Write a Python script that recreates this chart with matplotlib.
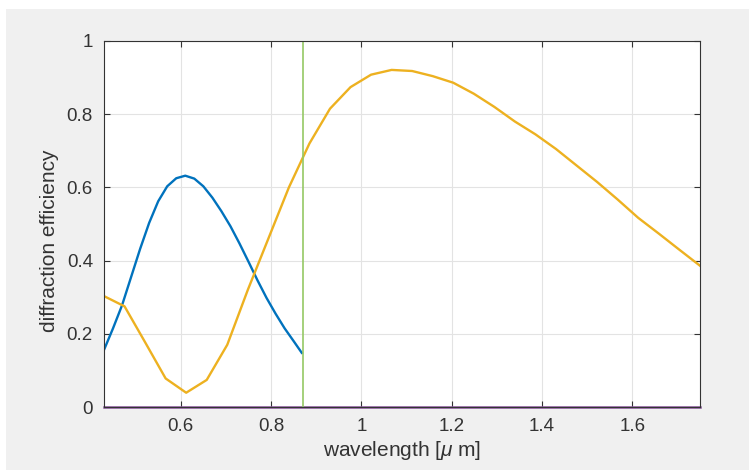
import matplotlib
matplotlib.use("Agg")
import matplotlib.pyplot as plt
from matplotlib.patches import Rectangle

plt.rcParams["font.family"] = ["Liberation Sans", "DejaVu Sans"]
plt.rcParams["mathtext.fontset"] = "custom"
plt.rcParams["mathtext.rm"] = "Liberation Sans"
plt.rcParams["mathtext.it"] = "Liberation Sans:italic"

# first-order efficiency, short-wavelength band
wl_blue = [0.43, 0.45, 0.47, 0.49, 0.51, 0.53, 0.55, 0.57, 0.59, 0.61,
           0.63, 0.65, 0.67, 0.69, 0.71, 0.73, 0.75, 0.77, 0.79, 0.81,
           0.83, 0.85, 0.868]
eff_blue = [0.156, 0.215, 0.278, 0.355, 0.432, 0.503, 0.562, 0.603, 0.625,
            0.632, 0.624, 0.603, 0.572, 0.535, 0.494, 0.447, 0.397, 0.346,
            0.298, 0.255, 0.215, 0.180, 0.148]

# efficiency over the full range
wl_yel = [0.43, 0.4755, 0.521, 0.5665, 0.612, 0.6575, 0.703, 0.7485, 0.794,
          0.8395, 0.885, 0.9305, 0.976, 1.0215, 1.067, 1.1125, 1.158, 1.2035,
          1.249, 1.2945, 1.34, 1.3855, 1.431, 1.4765, 1.522, 1.5675, 1.613,
          1.6585, 1.704, 1.75]
eff_yel = [0.303, 0.275, 0.177, 0.078, 0.039, 0.074, 0.17, 0.32, 0.46,
           0.60, 0.72, 0.815, 0.874, 0.908, 0.921, 0.918, 0.904, 0.886,
           0.856, 0.82, 0.78, 0.745, 0.705, 0.66, 0.615, 0.567, 0.517,
           0.474, 0.43, 0.386]

# zero-order line along the whole range
wl_zero = [0.43, 1.75]
eff_zero = [0.0, 0.0]

cutoff = 0.87  # band edge marker

fig = plt.figure(figsize=(7.49, 4.76), dpi=100, facecolor="white")
fig.patches.append(Rectangle((6 / 749, 6 / 476), 743 / 749, 461 / 476,
                             transform=fig.transFigure, facecolor="#f0f0f0",
                             edgecolor="none", zorder=-1))
ax = fig.add_axes([104 / 749, 69 / 476, 596 / 749, 366 / 476])

ax.plot(wl_blue, eff_blue, color="#0072BD", lw=1.7)
ax.plot(wl_yel, eff_yel, color="#EDB120", lw=1.7)
ax.plot(wl_zero, eff_zero, color="#8a559c", lw=1.8, clip_on=False)
ax.axvline(cutoff, color="#95c865", lw=1.2)

ax.set_xlim(0.43, 1.75)
ax.set_ylim(0, 1)
ax.set_xticks([0.6, 0.8, 1.0, 1.2, 1.4, 1.6])
ax.set_xticklabels(["0.6", "0.8", "1", "1.2", "1.4", "1.6"])
ax.set_yticks([0, 0.2, 0.4, 0.6, 0.8, 1.0])
ax.set_yticklabels(["0", "0.2", "0.4", "0.6", "0.8", "1"])
ax.grid(True, color="#e3e3e3", lw=0.8)
ax.set_axisbelow(True)
ax.tick_params(direction="in", length=4, width=0.8, colors="#333333",
               labelsize=13.5, top=True, right=True, pad=8)
for s in ax.spines.values():
    s.set_color("#333333")
    s.set_linewidth(0.8)

ax.set_xlabel(r"wavelength [$\mu$ m]", fontsize=15, color="#333333", labelpad=3)
ax.set_ylabel("diffraction efficiency", fontsize=15, color="#333333")
ax.yaxis.set_label_coords(-0.076, 0.455)

fig.savefig("out.png", dpi=100, facecolor=fig.get_facecolor())
